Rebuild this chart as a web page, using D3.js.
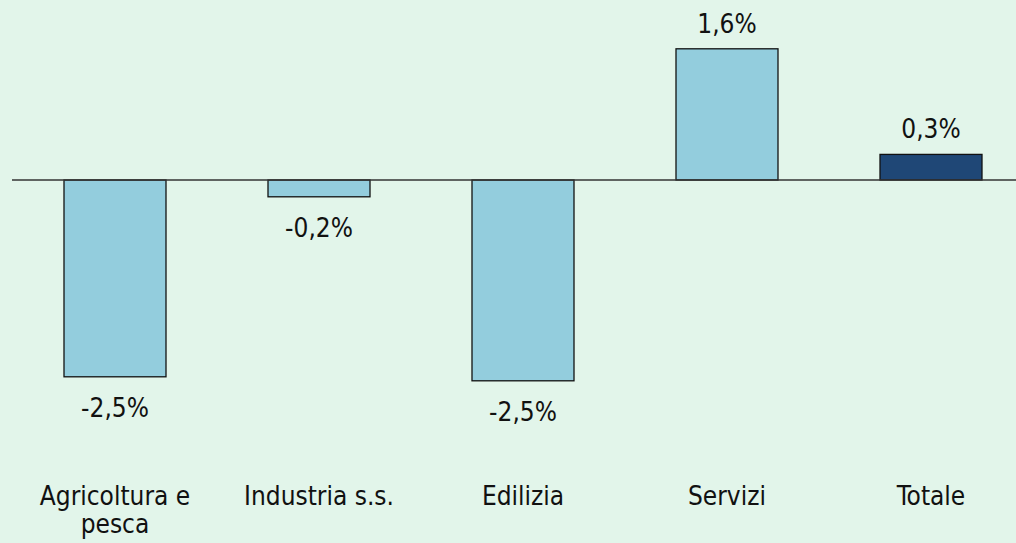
<!DOCTYPE html>
<html lang="it">
<head>
<meta charset="UTF-8">
<title>Variazione per settore</title>
<script src="https://d3js.org/d3.v7.min.js"></script>
<style>
  html, body {
    margin: 0;
    padding: 0;
    background: #e2f5ea;
  }
  svg text {
    font-family: "DejaVu Sans Condensed", "DejaVu Sans", sans-serif;
    font-size: 26px;
    fill: #111;
  }
</style>
</head>
<body>
<div id="chart"></div>
<script>
// data
const categories = ["Agricoltura e\npesca", "Industria s.s.", "Edilizia", "Servizi", "Totale"];
const values = [-2.46, -0.21, -2.51, 1.64, 0.32];
const highlight = ["Totale"];

const W = 1016, H = 543;

const svg = d3.select("#chart")
  .append("svg")
  .attr("width", W)
  .attr("height", H);

svg.append("rect")
  .attr("width", W)
  .attr("height", H)
  .attr("fill", "#e2f5ea");

// band scale: 204px step, bars half of it
const x = d3.scaleBand()
  .domain(categories)
  .range([13, 1033])
  .paddingInner(0.5)
  .paddingOuter(0.25);

// 80px per percentage point, zero at y=180
const y = d3.scaleLinear()
  .domain([-3, 2.25])
  .range([420, 0]);

// italian style: comma decimal, plain hyphen for minus
const fmt = d3.formatLocale({decimal: ",", thousands: ".", grouping: [3], currency: ["", "€"], minus: "-"})
  .format(".1f");

// bars
svg.append("g")
  .selectAll("rect")
  .data(values)
  .join("rect")
  .attr("x", (d, i) => x(categories[i]))
  .attr("y", d => y(Math.max(0, d)))
  .attr("width", x.bandwidth())
  .attr("height", d => Math.abs(y(d) - y(0)))
  .attr("fill", (d, i) => highlight.includes(categories[i]) ? "#1f4776" : "#93cddd")
  .attr("stroke", "#111")
  .attr("stroke-width", 1.3);

// zero line
svg.append("line")
  .attr("x1", 12)
  .attr("x2", W)
  .attr("y1", y(0))
  .attr("y2", y(0))
  .attr("stroke", "#333")
  .attr("stroke-width", 1.5);

// value labels
svg.append("g")
  .selectAll("text")
  .data(values)
  .join("text")
  .attr("x", (d, i) => x(categories[i]) + x.bandwidth() / 2)
  .attr("y", d => d >= 0 ? y(d) - 16 : y(d) + 40)
  .attr("text-anchor", "middle")
  .text(d => fmt(d) + "%");

// category labels
const cats = svg.append("g")
  .selectAll("text")
  .data(categories)
  .join("text")
  .attr("x", d => x(d) + x.bandwidth() / 2)
  .attr("y", 505)
  .attr("text-anchor", "middle");

cats.selectAll("tspan")
  .data(d => d.split("\n").map(t => ({t, cx: x(d) + x.bandwidth() / 2})))
  .join("tspan")
  .attr("x", d => d.cx)
  .attr("dy", (d, i) => i === 0 ? 0 : 28)
  .text(d => d.t);
</script>
</body>
</html>
